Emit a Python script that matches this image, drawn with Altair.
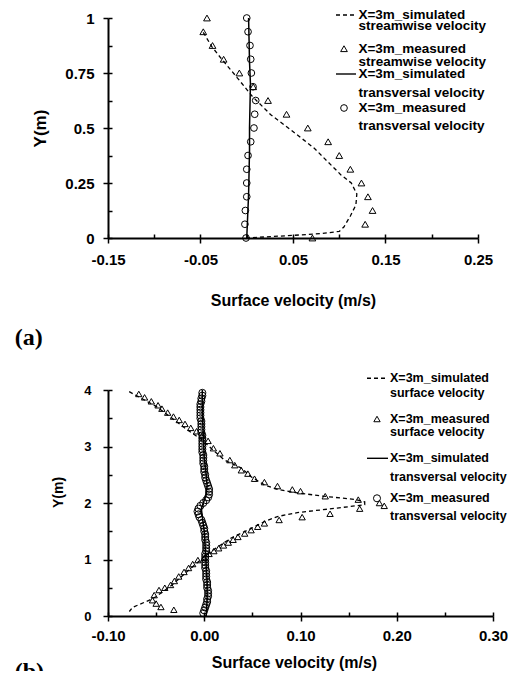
import altair as alt
import pandas as pd

# ---------------- Panel (a) data ----------------
a_sim_stream_x = [-0.047, -0.038, -0.028, -0.010, 0.006, 0.026, 0.0475, 0.0727, 0.1016,
                  0.113, 0.119, 0.118, 0.112, 0.105, 0.100, 0.080, 0.050, 0.020, 0.000]
a_sim_stream_y = [0.935, 0.871, 0.818, 0.727, 0.644, 0.560, 0.492, 0.409, 0.288,
                  0.250, 0.200, 0.150, 0.100, 0.050, 0.030, 0.020, 0.012, 0.005, 0.000]

a_meas_y = [1.0, 0.9375, 0.875, 0.8125, 0.75, 0.6875, 0.625, 0.5625, 0.5,
            0.4375, 0.375, 0.3125, 0.25, 0.1875, 0.125, 0.0625, 0.0]
a_meas_stream_x = [-0.043, -0.047, -0.037, -0.025, -0.008, 0.007, 0.023, 0.043, 0.066,
                   0.088, 0.100, 0.112, 0.124, 0.131, 0.136, 0.128, 0.071]
a_meas_trans_x = [0.000, 0.0014, 0.0035, 0.0043, 0.005, 0.0068, 0.0097, 0.0086, 0.0078,
                  0.0043, 0.0014, 0.000, 0.000, 0.000, -0.0015, -0.002, -0.0008]

a_sim_trans_x = [0.000, 0.001, 0.002, 0.0025, 0.003, 0.003, 0.0035, 0.004, 0.003, 0.0025, 0.002]
a_sim_trans_y = [0.0, 0.1, 0.2, 0.3, 0.4, 0.5, 0.6, 0.7, 0.8, 0.9, 1.0]

a_x_labels = [-0.15, -0.05, 0.05, 0.15, 0.25]
a_x_ticks = [-0.15, -0.10, -0.05, 0.0, 0.05, 0.10, 0.15, 0.20, 0.25]
a_y_labels = [0, 0.25, 0.5, 0.75, 1]
a_y_ticks = [0, 0.125, 0.25, 0.375, 0.5, 0.625, 0.75, 0.875, 1]

# ---------------- Panel (b) data ----------------
b_sim_surf_x = [-0.078, -0.065, -0.050, -0.035, -0.0196, -0.0026, 0.011, 0.021, 0.0385, 0.049,
                0.0625, 0.076, 0.0966, 0.124, 0.158, 0.1667,
                0.1667, 0.138, 0.0966, 0.076, 0.0625, 0.0453, 0.028, 0.012, 0.000,
                -0.0196, -0.0333, -0.0503, -0.057, -0.0744, -0.0778]
b_sim_surf_y = [3.97, 3.85, 3.71, 3.52, 3.32, 3.12, 2.91, 2.76, 2.62, 2.46,
                2.32, 2.24, 2.18, 2.12, 2.06, 2.02,
                1.97, 1.91, 1.83, 1.76, 1.67, 1.52, 1.38, 1.20, 1.05,
                0.76, 0.55, 0.34, 0.28, 0.154, 0.08]

b_meas_surf_x = [-0.068, -0.062, -0.055, -0.048, -0.044, -0.038, -0.032, -0.026, -0.020, -0.014,
                 -0.008, -0.002, 0.004, 0.0095, 0.0163, 0.0266, 0.0317, 0.0385, 0.0453, 0.0522,
                 0.0625, 0.0761, 0.0915, 0.100, 0.1257, 0.160, 0.182, 0.187, 0.1615, 0.1307,
                 0.1017, 0.0778, 0.0625, 0.0555, 0.0487, 0.042, 0.035, 0.030, 0.025, 0.020,
                 0.015, 0.010, 0.005, 0.000, -0.0066, -0.012, -0.0163, -0.021, -0.0265, -0.031,
                 -0.035, -0.041, -0.047, -0.052, -0.0538, -0.050, -0.045, -0.0316]
b_meas_surf_y = [3.93, 3.87, 3.80, 3.73, 3.67, 3.60, 3.53, 3.47, 3.40, 3.33,
                 3.27, 3.20, 3.10, 2.97, 2.88, 2.76, 2.67, 2.58, 2.52, 2.43,
                 2.37, 2.30, 2.24, 2.21, 2.12, 2.06, 2.00, 1.95, 1.90, 1.81,
                 1.75, 1.70, 1.64, 1.58, 1.52, 1.46, 1.40, 1.35, 1.30, 1.25,
                 1.20, 1.15, 1.10, 1.03, 0.99, 0.92, 0.85, 0.78, 0.70, 0.62,
                 0.55, 0.50, 0.46, 0.37, 0.28, 0.22, 0.16, 0.11]

b_sim_trans_x = [0.002, 0.003, 0.003, 0.002, 0.001, 0.000, -0.002, -0.003, -0.001, 0.002,
                 0.003, 0.002, 0.000, -0.001, -0.002, -0.002]
b_sim_trans_y = [0.0, 0.3, 0.6, 0.9, 1.2, 1.5, 1.75, 1.9, 2.0, 2.15,
                 2.3, 2.5, 2.8, 3.2, 3.6, 4.0]

b_meas_trans_y = [0.05, 0.10, 0.15, 0.20, 0.25, 0.30, 0.35, 0.40, 0.45, 0.50,
                  0.55, 0.60, 0.65, 0.70, 0.75, 0.80, 0.85, 0.90, 0.95, 1.00,
                  1.05, 1.10, 1.15, 1.20, 1.25, 1.30, 1.35, 1.40, 1.45, 1.50,
                  1.55, 1.60, 1.65, 1.70, 1.75, 1.80, 1.85, 1.90, 1.95, 2.00,
                  2.05, 2.10, 2.15, 2.20, 2.25, 2.30, 2.35, 2.40, 2.45, 2.50,
                  2.55, 2.60, 2.65, 2.70, 2.75, 2.80, 2.85, 2.90, 2.95, 3.00,
                  3.05, 3.10, 3.15, 3.20, 3.25, 3.30, 3.35, 3.40, 3.45, 3.50,
                  3.55, 3.60, 3.65, 3.70, 3.75, 3.80, 3.85, 3.90, 3.95]
b_meas_trans_x = [-0.001, 0.000, 0.001, 0.002, 0.003, 0.003, 0.004, 0.004, 0.004, 0.003,
                  0.003, 0.003, 0.002, 0.002, 0.002, 0.002, 0.001, 0.001, 0.001, 0.001,
                  0.001, 0.001, 0.002, 0.002, 0.002, 0.002, 0.001, 0.001, 0.001, 0.000,
                  0.000, -0.001, -0.002, -0.003, -0.005, -0.006, -0.007, -0.006, -0.004, -0.001,
                  0.002, 0.004, 0.005, 0.005, 0.005, 0.004, 0.003, 0.002, 0.001, 0.001,
                  0.000, 0.000, 0.000, -0.001, -0.001, -0.001, -0.001, -0.002, -0.002, -0.002,
                  -0.002, -0.002, -0.002, -0.002, -0.003, -0.003, -0.003, -0.003, -0.003, -0.004,
                  -0.004, -0.004, -0.004, -0.004, -0.004, -0.003, -0.003, -0.002, -0.002]

b_x_labels = [-0.10, 0.0, 0.10, 0.20, 0.30]
b_x_ticks = [-0.10, -0.05, 0.0, 0.05, 0.10, 0.15, 0.20, 0.25, 0.30]
b_y_labels = [0, 1, 2, 3, 4]
b_y_ticks = [0, 0.5, 1, 1.5, 2, 2.5, 3, 3.5, 4]

legend_a = ["X=3m_simulated", "streamwise velocity", "X=3m_measured", "streamwise velocity",
            "X=3m_simulated", "transversal velocity", "X=3m_measured", "transversal velocity"]
legend_b = ["X=3m_simulated", "surface velocity", "X=3m_measured", "surface velocity",
            "X=3m_simulated", "transversal velocity", "X=3m_measured", "transversal velocity"]

FONT = "Liberation Sans"
DASH = [4, 3]
dummy = pd.DataFrame({"d": [0]})


def df(xs, ys):
    return pd.DataFrame({"x": xs, "y": ys, "i": list(range(len(xs)))})


def txt(s, x, y, size, font=FONT):
    return alt.Chart(dummy).mark_text(
        text=s, align="left", baseline="middle", font=font, fontWeight="bold",
        fontSize=size, color="black"
    ).encode(x=alt.value(x), y=alt.value(y))


def sample_line(x1, x2, y, dash):
    kw = dict(color="black", strokeWidth=1.4)
    if dash:
        kw["strokeDash"] = DASH
    return alt.Chart(dummy).mark_rule(**kw).encode(
        x=alt.value(x1), x2=alt.value(x2), y=alt.value(y))


def sample_sym(shape, x, y, size):
    return alt.Chart(dummy).mark_point(
        shape=shape, filled=False, color="black", size=size, strokeWidth=1, opacity=1
    ).encode(x=alt.value(x), y=alt.value(y))


def build_panel(w, h, xdom, ydom, data, axes, legend, leg_pos, label, label_pos):
    sim_main, meas_main, sim_tr, meas_tr = data
    xs = alt.Scale(domain=xdom, nice=False, zero=False)
    ys = alt.Scale(domain=ydom, nice=False, zero=False)
    main_x, main_y, in_x, in_y = axes
    none = dict(axis=None)
    l1 = alt.Chart(sim_main).mark_line(color="black", strokeDash=DASH, strokeWidth=1.3).encode(
        x=alt.X("x:Q", scale=xs, axis=main_x), y=alt.Y("y:Q", scale=ys, axis=main_y),
        order="i:Q")
    l2 = alt.Chart(sim_tr).mark_line(color="black", strokeWidth=1.5).encode(
        x=alt.X("x:Q", scale=xs, axis=in_x), y=alt.Y("y:Q", scale=ys, axis=in_y),
        order="i:Q")
    l3 = alt.Chart(meas_main).mark_point(shape="triangle-up", filled=False, color="black",
                                        size=leg_pos["tsize"], strokeWidth=1, opacity=1).encode(
        x=alt.X("x:Q", scale=xs, **none), y=alt.Y("y:Q", scale=ys, **none))
    l4 = alt.Chart(meas_tr).mark_point(shape="circle", filled=False, color="black",
                                      size=leg_pos["csize"], strokeWidth=1, opacity=1).encode(
        x=alt.X("x:Q", scale=xs, **none), y=alt.Y("y:Q", scale=ys, **none))
    tx = leg_pos["tx"]
    ly = leg_pos["ys"]
    fs = leg_pos["fs"]
    layers = [l1, l2, l3, l4]
    for s, yy in zip(legend, ly):
        layers.append(txt(s, tx, yy, fs))
    lx1, lx2 = leg_pos["line"]
    layers.append(sample_line(lx1, lx2, ly[0], True))
    layers.append(sample_sym("triangle-up", leg_pos["sx"], ly[2], leg_pos["tsize"]))
    layers.append(sample_line(lx1, lx2 + 1, ly[4], False))
    layers.append(sample_sym("circle", leg_pos["sx"], ly[6], leg_pos["csize"]))
    layers.append(txt(label, label_pos[0], label_pos[1], 24, font="Liberation Serif"))
    return alt.layer(*layers).resolve_axis(x="independent", y="independent").properties(
        width=w, height=h)


def main_axes(xl, xt, yl, yt, xfmt, yfmt, w, h, xlp, ylp, ylfs, xtitle, ytitle):
    common = dict(domainWidth=2, domainColor="black", tickColor="black", tickWidth=1.5,
                  grid=False, labelFlush=False, labelOverlap=False, labelBaseline="middle",
                  labelFont=FONT, titleFont=FONT, labelFontWeight="bold", titleFontWeight="bold",
                  labelColor="black", titleColor="black", titleBaseline="middle")
    mx = alt.Axis(values=xl, tickSize=5, labelPadding=xlp, labelFontSize=15,
                  labelExpr="replace(format(datum.value, '%s'), '\u2212', '-')" % xfmt,
                  title="Surface velocity (m/s)", titleX=xtitle[0], titleY=xtitle[1],
                  titleFontSize=16, **common)
    my = alt.Axis(values=yl, tickSize=5, labelPadding=ylp, labelFontSize=ylfs,
                  labelExpr="replace(format(datum.value, '%s'), '\u2212', '-')" % yfmt,
                  title="Y(m)", titleX=ytitle[0], titleY=ytitle[1], titleAngle=270,
                  titleFontSize=ytitle[2], **common)
    ix = alt.Axis(orient="top", offset=-h, values=xt, labels=False, domain=False, tickSize=4,
                  tickWidth=1.5, tickColor="black", grid=False, title=None)
    iy = alt.Axis(orient="right", offset=-w, values=yt, labels=False, domain=False, tickSize=4,
                  tickWidth=1.5, tickColor="black", grid=False, title=None)
    return mx, my, ix, iy


WA, HA = 370, 220
WB, HB = 385, 226

panel_a = build_panel(
    WA, HA, [-0.15, 0.25], [0, 1],
    (df(a_sim_stream_x, a_sim_stream_y), df(a_meas_stream_x, a_meas_y),
     df(a_sim_trans_x, a_sim_trans_y), df(a_meas_trans_x, a_meas_y)),
    main_axes(a_x_labels, a_x_ticks, a_y_labels, a_y_ticks, ".2f", ".2~f", WA, HA,
              16, 9, 15, (185, 62), (-68, 110, 17)),
    legend_a,
    dict(tx=250.4, ys=[-3.0, 8.4, 30.7, 44.4, 56, 75, 90, 107.7], fs=13.5,
         line=(228, 247), sx=236, tsize=45, csize=45),
    "(a)", (-93.3, 319.7))

panel_b = build_panel(
    WB, HB, [-0.10, 0.30], [0, 4],
    (df(b_sim_surf_x, b_sim_surf_y), df(b_meas_surf_x, b_meas_surf_y),
     df(b_sim_trans_x, b_sim_trans_y), df(b_meas_trans_x, b_meas_trans_y)),
    main_axes(b_x_labels, b_x_ticks, b_y_labels, b_y_ticks, ".2f", "d", WB, HB,
              14, 12, 13, (186, 46), (-50, 102, 14)),
    legend_b,
    dict(tx=282, ys=[-11.7, 3.3, 29, 42.3, 68.3, 86.7, 108.3, 125.7], fs=12.5,
         line=(259, 279), sx=269, tsize=40, csize=50),
    "(b)", (-93.3, 282))

chart = alt.vconcat(panel_a, panel_b, spacing=152, bounds="flush").properties(
    padding={"left": 6, "top": 0, "right": 0, "bottom": -13}
).configure_view(stroke=None)

chart.save("out.html", embed_options={"renderer": "svg", "actions": False})
